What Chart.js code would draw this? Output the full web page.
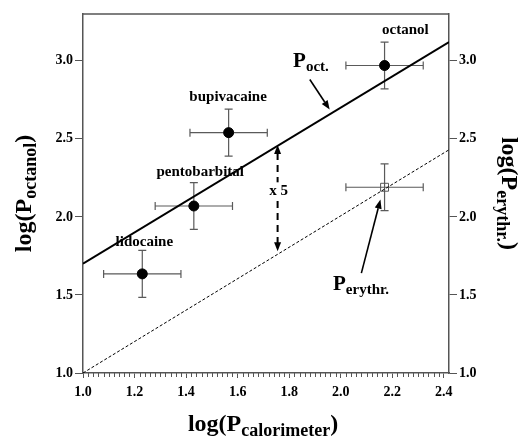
<!DOCTYPE html>
<html>
<head>
<meta charset="utf-8">
<script src="https://cdn.jsdelivr.net/npm/chart.js@4.4.1/dist/chart.umd.min.js"></script>
<style>
    html, body { margin: 0; padding: 0; background: #fff; }
</style>
</head>
<body>
<canvas id="partition-chart" width="519" height="436"></canvas>
<script>
// Partition coefficients: calorimetry vs. octanol / erythrocyte membranes
const drugNames = ['lidocaine', 'pentobarbital', 'bupivacaine', 'octanol'];
const logPCalorimeter = [1.23, 1.43, 1.565, 2.17];
const logPOctanol = [1.635, 2.07, 2.54, 2.97];
const calorimeterErr = [0.15, 0.15, 0.15, 0.15];
const octanolErr = [0.15, 0.15, 0.15, 0.15];

const erythrX = [2.17];
const erythrY = [2.19];
const erythrXErr = [0.15];
const erythrYErr = [0.15];

// fitted lines (octanol, and erythrocyte = octanol / 5)
const octFitX = [1.0, 2.42];
const octFitY = [1.70, 3.12];
const erythrFitX = [1.0, 2.42];
const erythrFitY = [1.0, 2.43];

const xTickValues = [1.0, 1.2, 1.4, 1.6, 1.8, 2.0, 2.2, 2.4];
const yTickValues = [1.0, 1.5, 2.0, 2.5, 3.0];

// label anchors in data units
const drugLabelX = [1.238, 1.455, 1.563, 2.251];
const drugLabelY = [1.816, 2.265, 2.745, 3.169];

const FONT = '"Liberation Serif", "Times New Roman", serif';
const AXIS_COLOR = '#555';

const toPoints = (xs, ys) => xs.map((x, i) => ({ x, y: ys[i] }));

function subText(ctx, x, y, main, sub, tail, size, subSize, drop, align) {
    const big = `bold ${size}px ${FONT}`;
    const small = `bold ${subSize}px ${FONT}`;
    ctx.font = big;
    const w1 = ctx.measureText(main).width;
    const w3 = tail ? ctx.measureText(tail).width : 0;
    ctx.font = small;
    const w2 = ctx.measureText(sub).width;
    let sx = x;
    if (align === 'center') sx = x - (w1 + w2 + w3) / 2;
    ctx.textAlign = 'left';
    ctx.textBaseline = 'alphabetic';
    ctx.font = big;
    ctx.fillText(main, sx, y);
    ctx.font = small;
    ctx.fillText(sub, sx + w1, y + drop);
    if (tail) {
        ctx.font = big;
        ctx.fillText(tail, sx + w1 + w2, y);
    }
}

function arrow(ctx, x0, y0, x1, y1, len, half) {
    const a = Math.atan2(y1 - y0, x1 - x0);
    const bx = x1 - len * Math.cos(a);
    const by = y1 - len * Math.sin(a);
    ctx.beginPath();
    ctx.moveTo(x0, y0);
    ctx.lineTo(bx, by);
    ctx.stroke();
    ctx.beginPath();
    ctx.moveTo(x1, y1);
    ctx.lineTo(bx + half * Math.sin(a), by - half * Math.cos(a));
    ctx.lineTo(bx - half * Math.sin(a), by + half * Math.cos(a));
    ctx.closePath();
    ctx.fill();
}

const errorBarPlugin = {
    id: 'errorBars',
    beforeDatasetsDraw(chart) {
        const { ctx, scales: { x, y } } = chart;
        ctx.save();
        ctx.strokeStyle = '#5a5a5a';
        ctx.lineWidth = 1.2;
        const groups = [
            { xs: logPCalorimeter, ys: logPOctanol, ex: calorimeterErr, ey: octanolErr },
            { xs: erythrX, ys: erythrY, ex: erythrXErr, ey: erythrYErr }
        ];
        groups.forEach(g => {
            g.xs.forEach((xv, i) => {
                const px = x.getPixelForValue(xv);
                const py = y.getPixelForValue(g.ys[i]);
                const left = x.getPixelForValue(xv - g.ex[i]);
                const right = x.getPixelForValue(xv + g.ex[i]);
                const top = y.getPixelForValue(g.ys[i] + g.ey[i]);
                const bottom = y.getPixelForValue(g.ys[i] - g.ey[i]);
                ctx.beginPath();
                ctx.moveTo(left, py); ctx.lineTo(right, py);
                ctx.moveTo(left, py - 4); ctx.lineTo(left, py + 4);
                ctx.moveTo(right, py - 4); ctx.lineTo(right, py + 4);
                ctx.moveTo(px, top); ctx.lineTo(px, bottom);
                ctx.moveTo(px - 4, top); ctx.lineTo(px + 4, top);
                ctx.moveTo(px - 4, bottom); ctx.lineTo(px + 4, bottom);
                ctx.stroke();
            });
        });
        ctx.restore();
    }
};

const framePlugin = {
    id: 'frame',
    afterDraw(chart) {
        const { ctx, chartArea: { left, right, top, bottom }, scales: { x } } = chart;
        ctx.save();
        ctx.strokeStyle = AXIS_COLOR;
        ctx.lineWidth = 1.5;
        ctx.beginPath();
        ctx.moveTo(left, top);
        ctx.lineTo(right, top);
        ctx.stroke();

        // minor ticks on the x axis every 0.02
        ctx.lineWidth = 1;
        ctx.beginPath();
        for (let k = 1; k < 71; k++) {
            if (k % 10 === 0) continue;
            const px = Math.round(x.getPixelForValue(1 + k * 0.02)) + 0.5;
            ctx.moveTo(px, bottom);
            ctx.lineTo(px, bottom + 4);
        }
        ctx.stroke();
        ctx.restore();
    }
};

const annotationPlugin = {
    id: 'annotations',
    afterDatasetsDraw(chart) {
        const { ctx, scales: { x, y } } = chart;
        ctx.save();
        ctx.fillStyle = '#000';
        ctx.strokeStyle = '#000';

        // compound names
        ctx.font = `bold 15px ${FONT}`;
        ctx.textAlign = 'center';
        ctx.textBaseline = 'alphabetic';
        drugNames.forEach((name, i) => {
            ctx.fillText(name, x.getPixelForValue(drugLabelX[i]), y.getPixelForValue(drugLabelY[i]));
        });

        // line labels
        subText(ctx, x.getPixelForValue(1.815), y.getPixelForValue(2.963), 'P', 'oct.', '', 21, 15, 4, 'left');
        subText(ctx, x.getPixelForValue(1.970), y.getPixelForValue(1.534), 'P', 'erythr.', '', 21, 15, 4, 'left');

        ctx.lineWidth = 1.6;
        arrow(ctx, x.getPixelForValue(1.880), y.getPixelForValue(2.880),
            x.getPixelForValue(1.957), y.getPixelForValue(2.688), 9, 3.5);
        arrow(ctx, x.getPixelForValue(2.080), y.getPixelForValue(1.64),
            x.getPixelForValue(2.154), y.getPixelForValue(2.111), 9, 3.5);

        // factor of 5 between the two lines
        const fx = x.getPixelForValue(1.755);
        const fTop = y.getPixelForValue(2.46);
        const fBottom = y.getPixelForValue(1.78);
        ctx.lineWidth = 2;
        ctx.setLineDash([7, 5]);
        ctx.beginPath();
        ctx.moveTo(fx, fTop + 8);
        ctx.lineTo(fx, fBottom - 8);
        ctx.stroke();
        ctx.setLineDash([]);
        ctx.lineWidth = 1;
        arrow(ctx, fx, fTop + 9, fx, fTop, 9, 3.5);
        arrow(ctx, fx, fBottom - 9, fx, fBottom, 9, 3.5);

        const lx = x.getPixelForValue(1.759);
        const ly = y.getPixelForValue(2.164);
        ctx.fillStyle = '#fff';
        ctx.fillRect(lx - 10, ly - 9, 20, 18);
        ctx.fillStyle = '#000';
        ctx.font = `bold 15px ${FONT}`;
        ctx.textAlign = 'center';
        ctx.textBaseline = 'middle';
        ctx.fillText('x 5', lx, ly);
        ctx.restore();
    },
    afterDraw(chart) {
        const { ctx, chartArea } = chart;
        const midY = (chartArea.top + chartArea.bottom) / 2;
        ctx.save();
        ctx.fillStyle = '#000';
        subText(ctx, 263, 431, 'log(P', 'calorimeter', ')', 24, 18, 5, 'center');

        ctx.translate(31, midY);
        ctx.rotate(-Math.PI / 2);
        subText(ctx, 0, 0, 'log(P', 'octanol', ')', 24, 18, 5, 'center');
        ctx.restore();

        ctx.save();
        ctx.fillStyle = '#000';
        ctx.translate(502, midY);
        ctx.rotate(Math.PI / 2);
        subText(ctx, 0, 0, 'log(P', 'erythr.', ')', 24, 18, 5, 'center');
        ctx.restore();
    }
};

const tickFont = { family: FONT, size: 14, weight: 'bold' };

const ctx = document.getElementById('partition-chart').getContext('2d');

const partitionChart = new Chart(ctx, {
    type: 'scatter',
    data: {
        datasets: [
            {
                type: 'line',
                data: toPoints(octFitX, octFitY),
                borderColor: '#000',
                borderWidth: 2,
                pointRadius: 0,
                fill: false
            },
            {
                type: 'line',
                data: toPoints(erythrFitX, erythrFitY),
                borderColor: '#000',
                borderWidth: 1,
                borderDash: [3, 2],
                pointRadius: 0,
                fill: false
            },
            {
                data: toPoints(logPCalorimeter, logPOctanol),
                backgroundColor: '#000',
                borderColor: '#000',
                borderWidth: 1,
                pointRadius: 5
            },
            {
                data: toPoints(erythrX, erythrY),
                pointStyle: 'rect',
                backgroundColor: 'rgba(0,0,0,0)',
                borderColor: '#555',
                borderWidth: 1,
                pointRadius: 5.6
            }
        ]
    },
    options: {
        responsive: false,
        animation: false,
        layout: { padding: { top: 14, left: 0, right: 0, bottom: 0 } },
        plugins: {
            legend: { display: false },
            tooltip: { enabled: false }
        },
        scales: {
            x: {
                type: 'linear',
                min: 1.0,
                max: 2.42,
                afterBuildTicks: scale => { scale.ticks = xTickValues.map(v => ({ value: v })); },
                afterFit: scale => { scale.height = 63; },
                ticks: {
                    font: tickFont,
                    color: '#000',
                    padding: 6,
                    maxRotation: 0,
                    callback: v => v.toFixed(1)
                },
                grid: { drawOnChartArea: false, tickLength: 5, color: AXIS_COLOR },
                border: { color: AXIS_COLOR, width: 1.5 }
            },
            y: {
                type: 'linear',
                position: 'left',
                min: 1.0,
                max: 3.3,
                afterBuildTicks: scale => { scale.ticks = yTickValues.map(v => ({ value: v })); },
                afterFit: scale => { scale.width = 83; },
                ticks: {
                    font: tickFont,
                    color: '#000',
                    padding: 2,
                    callback: v => v.toFixed(1)
                },
                grid: { drawOnChartArea: false, tickLength: 8, color: AXIS_COLOR },
                border: { color: AXIS_COLOR, width: 1.5 }
            },
            y2: {
                type: 'linear',
                position: 'right',
                min: 1.0,
                max: 3.3,
                afterBuildTicks: scale => { scale.ticks = yTickValues.map(v => ({ value: v })); },
                afterFit: scale => { scale.width = 70; },
                ticks: {
                    font: tickFont,
                    color: '#000',
                    padding: 2,
                    callback: v => v.toFixed(1)
                },
                grid: { drawOnChartArea: false, tickLength: 8, color: AXIS_COLOR },
                border: { color: AXIS_COLOR, width: 1.5 }
            }
        }
    },
    plugins: [errorBarPlugin, framePlugin, annotationPlugin]
});
</script>
</body>
</html>
